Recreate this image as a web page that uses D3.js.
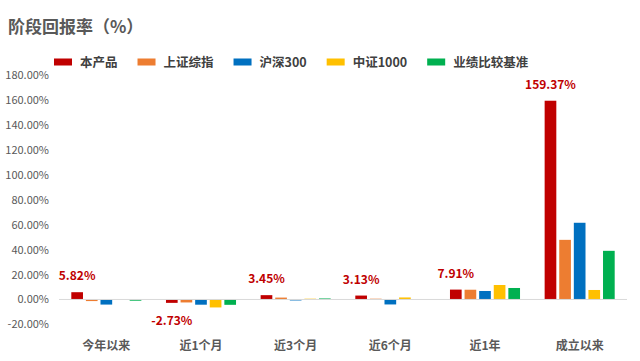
<!DOCTYPE html>
<html>
<head>
<meta charset="utf-8">
<script src="https://cdn.jsdelivr.net/npm/d3@7"></script>
<style>
  body { margin: 0; background: #fff; }
  text { font-family: "Noto Sans CJK SC", "Liberation Sans", sans-serif; }
</style>
</head>
<body>
<div id="chart"></div>
<script>
// periods and series
var categories = ["今年以来", "近1个月", "近3个月", "近6个月", "近1年", "成立以来"];
var seriesNames = ["本产品", "上证综指", "沪深300", "中证1000", "业绩比较基准"];
var seriesColors = ["#C00000", "#ED7D31", "#0070C0", "#FFC000", "#00B050"];

var product   = [5.82, -2.73, 3.45, 3.13, 7.91, 159.37];
var shIndex   = [-1.3, -2.4, 1.5, 0.6, 7.8, 47.8];
var hs300     = [-4.1, -4.2, -0.8, -4.0, 6.8, 61.5];
var zz1000    = [0, -6.4, 0.6, 1.6, 11.6, 7.6];
var benchmark = [-1.0, -4.3, 0.8, 0, 9.2, 39.0];

var yTicks = [-20, 0, 20, 40, 60, 80, 100, 120, 140, 160, 180];

var allSeries = [product, shIndex, hs300, zz1000, benchmark];

var width = 640,
	height = 361,
	plot_left = 59,
	plot_right = 627,
	y_top = 75,
	y_bottom = 324.4;

var svg = d3.select("#chart").append("svg")
	.attr("width", width)
	.attr("height", height);

// title
svg.append("text")
	.attr("x", 8)
	.attr("y", 33)
	.attr("font-size", 17)
	.attr("font-weight", "bold")
	.attr("fill", "#595959")
	.text("阶段回报率（%）");

var x0 = d3.scaleBand().domain(categories).range([plot_left, plot_right]).paddingInner(0.26).paddingOuter(0.13);
var x1 = d3.scaleBand().domain(seriesNames).range([0, x0.bandwidth()]).paddingInner(0.2);
var y = d3.scaleLinear().domain([-20, 180]).range([y_bottom, y_top]);

// y axis
var yAxis = svg.append("g")
	.attr("transform", "translate(" + plot_left + ",0)")
	.call(d3.axisLeft(y).tickValues(yTicks).tickSize(0).tickPadding(10)
		.tickFormat(function (d) { return d.toFixed(2) + "%"; }));
yAxis.select(".domain").remove();
yAxis.selectAll("text")
	.attr("font-family", "Liberation Sans, sans-serif")
	.attr("font-size", 11)
	.attr("fill", "#595959");

// bars
var groups = svg.selectAll("g.group")
	.data(categories).enter().append("g")
	.attr("class", "group")
	.attr("transform", function (d) { return "translate(" + x0(d) + ",0)"; });

groups.selectAll("rect")
	.data(function (d, i) {
		return seriesNames.map(function (s, j) { return { name: s, color: seriesColors[j], value: allSeries[j][i] }; });
	})
	.enter().append("rect")
	.attr("x", function (d) { return x1(d.name); })
	.attr("width", x1.bandwidth())
	.attr("y", function (d) { return y(Math.max(0, d.value)); })
	.attr("height", function (d) { return Math.abs(y(d.value) - y(0)); })
	.attr("fill", function (d) { return d.color; });

// zero line
svg.append("line")
	.attr("x1", plot_left).attr("x2", plot_right)
	.attr("y1", y(0)).attr("y2", y(0))
	.attr("stroke", "#d9d9d9")
	.attr("stroke-width", 1);

// labels for the product only
svg.selectAll("text.vlabel")
	.data(product).enter().append("text")
	.attr("class", "vlabel")
	.attr("x", function (d, i) { return x0(categories[i]) + x1(seriesNames[0]) + x1.bandwidth() / 2; })
	.attr("y", function (d) { return d >= 0 ? y(d) - 12 : y(d) + 22; })
	.attr("text-anchor", "middle")
	.attr("font-family", "Liberation Sans, sans-serif")
	.attr("font-size", 12)
	.attr("font-weight", "bold")
	.attr("fill", "#C00000")
	.text(function (d) { return d.toFixed(2) + "%"; });

// category labels
svg.selectAll("text.cat")
	.data(categories).enter().append("text")
	.attr("class", "cat")
	.attr("x", function (d) { return x0(d) + x0.bandwidth() / 2; })
	.attr("y", 350)
	.attr("text-anchor", "middle")
	.attr("font-size", 12)
	.attr("font-weight", "bold")
	.attr("fill", "#595959")
	.text(function (d) { return d; });

// legend
var legend_x = 54;
seriesNames.forEach(function (s, i) {
	var g = svg.append("g").attr("transform", "translate(" + legend_x + ",62)");
	g.append("rect")
		.attr("x", 0).attr("y", -3.5)
		.attr("width", 18).attr("height", 7)
		.attr("fill", seriesColors[i]);
	var t = g.append("text")
		.attr("x", 26).attr("y", 5)
		.attr("font-size", 12.5)
		.attr("font-weight", "bold")
		.attr("fill", "#404040")
		.text(s);
	legend_x += 26 + t.node().getComputedTextLength() + 20;
});
</script>
</body>
</html>
